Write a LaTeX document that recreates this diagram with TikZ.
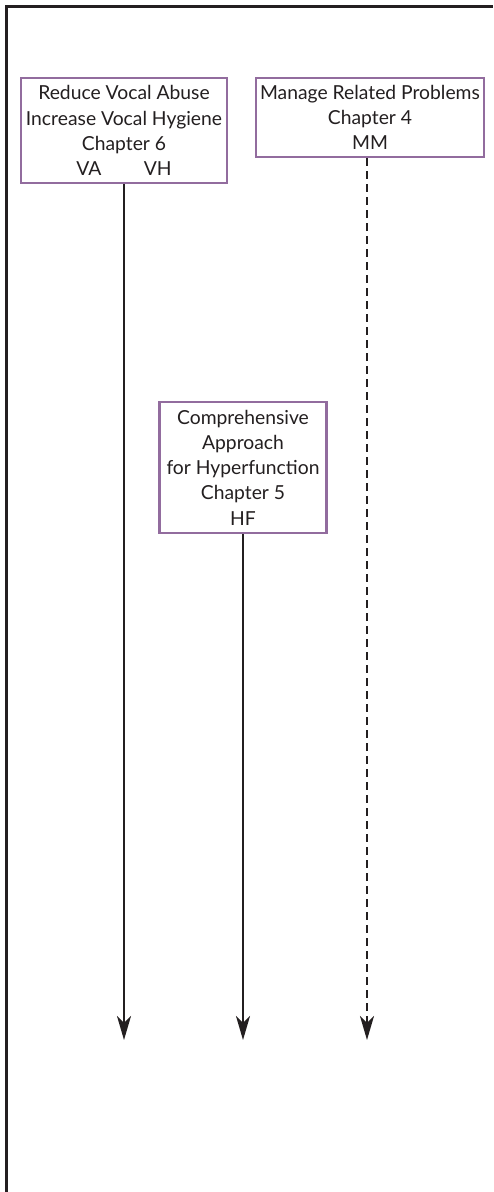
\documentclass[tikz,border=0pt]{standalone}
\usepackage{fontspec}
\setmainfont{Lato}
\usepackage{xcolor}
\usetikzlibrary{arrows.meta,positioning}
\definecolor{boxpurple}{RGB}{146,108,158}
\definecolor{inkblack}{RGB}{35,31,32}

\begin{document}
\begin{tikzpicture}[x=1pt,y=-1pt,>={Stealth[length=24pt,width=14pt,inset=7pt]},font=\fontsize{19.3}{25.2}\selectfont,text=inkblack]
\tikzstyle{box}=[rectangle,draw=boxpurple,line width=2.4pt,fill=white,align=center,inner sep=0pt]
\tikzstyle{flow}=[->,draw=inkblack,line width=2.4pt]
\useasboundingbox (0,0) rectangle (493,1192);
\draw[inkblack,line width=3pt] (6,1192) -- (6,6) -- (493,6);
\node[box,minimum width=206pt,minimum height=105pt] (va) at (124,130.5) {Reduce Vocal Abuse\\Increase Vocal Hygiene\\Chapter 6\\VA\hspace{2.2em}VH};
\node[box,minimum width=228pt,minimum height=79pt] (mm) at (370,117.5) {Manage Related Problems\\Chapter 4\\MM};
\node[box,minimum width=167pt,minimum height=131pt] (hf) at (243,467.5) {Comprehensive\\Approach\\for Hyperfunction\\Chapter 5\\HF};
\coordinate (vaend) at (124,1040);
\coordinate (hfend) at (243,1040);
\coordinate (mmend) at (367,1040);
\draw[flow] (va.south) -- (vaend);
\draw[flow] (hf.south) -- (hfend);
\draw[flow,dash pattern=on 8pt off 5pt] (mm.south -| mmend) -- (mmend);
\end{tikzpicture}
\end{document}
